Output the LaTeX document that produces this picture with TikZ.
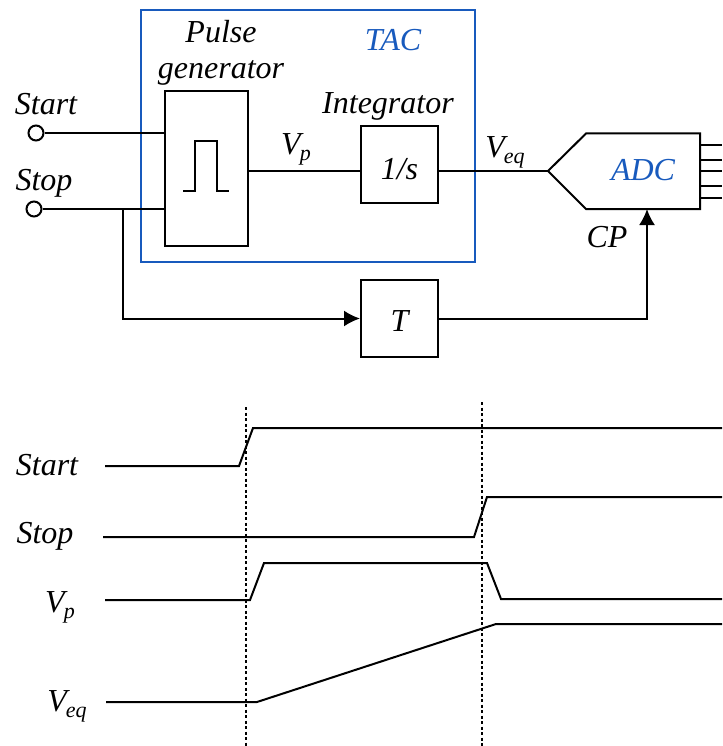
\documentclass[tikz,border=0pt]{standalone}
\usepackage{fontspec}
\setmainfont{Liberation Serif}
\usetikzlibrary{arrows.meta, calc}
\definecolor{tacblue}{RGB}{24,90,189}
\newcommand{\sig}[1]{V\kern-1pt\raisebox{-6pt}{\fontsize{22}{24}\selectfont #1}}
\tikzstyle{port}=[circle, draw, fill=white, inner sep=0pt, minimum size=15pt]
\tikzstyle{block}=[rectangle, draw, fill=white, inner sep=0pt]
\tikzstyle{lbl}=[inner sep=0pt, font=\fontsize{32}{36}\selectfont\itshape]
\tikzstyle{wave}=[line width=2pt, line join=miter]

\begin{document}
\begin{tikzpicture}[x=1pt, y=-1pt, line width=2pt, >={Latex[length=16pt,width=16pt]}]
        \useasboundingbox (0,0) rectangle (722,746);
        % TAC frame
        \draw[tacblue] (141,10) rectangle (475,262);
        \node[lbl, text=tacblue] (tac) at (393,40) {TAC};
        \node[lbl] (pulselbl) at (221,32) {Pulse};
        \node[lbl] (genlbl) at (221,73) {generator};
        \node[lbl] (intlbl) at (388,106) {Integrator};
        \node[lbl] (startlbl) at (46,104) {Start};
        \node[lbl] (stoplbl) at (44,183) {Stop};
        \node[lbl] (vplbl) at (296,149) {\sig{p}};
        \node[lbl] (veqlbl) at (505,152) {\sig{eq}};
        \node[lbl] (cplbl) at (607,237) {CP};
        % blocks
        \node[block, minimum width=83pt, minimum height=155pt] (pulse) at (206,168.5) {};
        \node[block, minimum width=77pt, minimum height=77pt, lbl] (integ) at (399.5,164.5) {\rule{0pt}{30pt}1/s};
        \node[block, minimum width=77pt, minimum height=77pt, lbl] (delay) at (399.5,318.5) {\rule{0pt}{25pt}T};
        \node[port] (start) at (36,133) {};
        \node[port] (stop) at (34,209) {};
        \draw (183,191) -- (195,191) -- (195,141) -- (217,141) -- (217,191) -- (229,191);
        % ADC
        \coordinate (adcin) at (548,171);
        \coordinate (adcclk) at (647,209);
        \draw (adcin) -- (586,133.5) -- (700,133.5) -- (700,209) -- (586,209) -- cycle;
        \node[lbl, text=tacblue] (adc) at (643,170) {ADC};
        \foreach \y/\name in {145/a, 160/b, 171/c, 186/d, 198/e} {
            \coordinate (out\name) at (722,\y);
            \draw (700,\y) -- (out\name);
        }
        % connections
        \coordinate (branch) at (123,209);
        \coordinate (vpout) at (247.5,171);
        \coordinate (vpin) at (361,171);
        \coordinate (integout) at (438,171);
        \draw (start) -- (start -| pulse.west);
        \draw (stop) -- (stop -| pulse.west);
        \draw (vpout) -- (vpin);
        \draw (integout) -- (adcin);
        \draw[->] (branch) |- (delay.west);
        \draw[->] (delay.east) -| (adcclk);
        % timing diagram
        \coordinate (cuta) at (246,407);
        \coordinate (cutb) at (482,402);
        \draw[line width=1.5pt, dash pattern=on 3pt off 2.5pt] (cuta) -- (246,746);
        \draw[line width=1.5pt, dash pattern=on 3pt off 2.5pt] (cutb) -- (482,746);
        \node[lbl] (tstart) at (47,465) {Start};
        \node[lbl] (tstop) at (45,536) {Stop};
        \node[lbl] (tvp) at (60,607) {\sig{p}};
        \node[lbl] (tveq) at (67,706) {\sig{eq}};
        \draw[wave] (105,466) -- (239,466) -- (253,428) -- (722,428);
        \draw[wave] (103,537) -- (474,537) -- (487,497) -- (722,497);
        \draw[wave] (105,600) -- (250,600) -- (264,563) -- (487,563) -- (501,599) -- (722,599);
        \draw[wave] (106,702) -- (257,702) -- (496,624) -- (722,624);
    \end{tikzpicture}
\end{document}
